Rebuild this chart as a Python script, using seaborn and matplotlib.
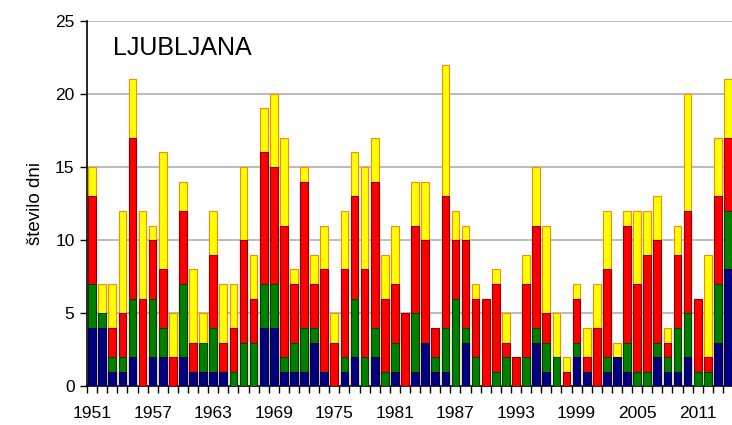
import numpy as np
import pandas as pd
import matplotlib
matplotlib.use('Agg')
import matplotlib.pyplot as plt
import seaborn as sns

years = list(range(1951, 2015))

# dni po kategorijah (od spodaj navzgor)
blue = [4, 4, 1, 1, 2, 0, 2, 2, 0, 2,
        1, 1, 1, 1, 0, 0, 0, 4, 4, 1,
        1, 1, 3, 1, 0, 1, 2, 0, 2, 0,
        1, 0, 1, 3, 1, 1, 0, 3, 0, 0,
        0, 0, 0, 0, 3, 1, 0, 0, 2, 1,
        0, 1, 2, 1, 0, 0, 2, 1, 1, 2,
        0, 0, 3, 8]
green = [3, 1, 1, 1, 4, 0, 4, 2, 0, 5,
         0, 2, 3, 0, 1, 3, 3, 3, 3, 1,
         2, 3, 1, 0, 0, 1, 4, 2, 2, 1,
         2, 0, 4, 0, 1, 3, 6, 1, 2, 0,
         1, 2, 0, 2, 1, 2, 2, 0, 1, 0,
         0, 1, 0, 2, 1, 1, 1, 1, 3, 3,
         1, 1, 4, 4]
red = [6, 0, 2, 3, 11, 6, 4, 4, 2, 5,
       2, 0, 5, 2, 3, 7, 3, 9, 8, 9,
       4, 10, 3, 7, 3, 6, 7, 6, 10, 5,
       4, 5, 6, 7, 2, 9, 4, 6, 4, 6,
       6, 1, 2, 5, 7, 2, 0, 1, 3, 1,
       4, 6, 0, 8, 6, 8, 7, 1, 5, 7,
       5, 1, 6, 5]
yellow = [2, 2, 3, 7, 4, 6, 1, 8, 3, 2,
          5, 2, 3, 4, 3, 5, 3, 3, 5, 6,
          1, 1, 2, 3, 2, 4, 3, 7, 3, 3,
          4, 0, 3, 4, 0, 9, 2, 1, 1, 0,
          1, 2, 0, 2, 4, 6, 3, 1, 1, 2,
          3, 4, 1, 1, 5, 3, 3, 1, 2, 8,
          0, 7, 4, 4]

tick_years = years[::6]

sns.set_theme(style='white')
plt.rcParams['font.family'] = ['Liberation Sans', 'DejaVu Sans']

fig = plt.figure(figsize=(7.32, 4.25), dpi=100)
ax = fig.add_axes([0.1189, 0.0906, 0.8825, 0.8607])

labels = [str(y) for y in years]
b = np.array(blue, float)
g = np.array(green, float)
r = np.array(red, float)
yl = np.array(yellow, float)

# kumulativne plasti, risane od zgoraj navzdol
layers = [
    (b + g + r + yl, yl, '#FFFF00', '#FF8C00'),
    (b + g + r, r, '#FF0000', '#8B0000'),
    (b + g, g, '#008000', '#004000'),
    (b, b, '#000080', '#000040'),
]
for cum, seg, fc, ec in layers:
    vals = np.where(seg > 0, cum, np.nan)
    df = pd.DataFrame({'leto': labels, 'dni': vals})
    sns.barplot(data=df, x='leto', y='dni', order=labels, color=fc,
                saturation=1, edgecolor=ec, linewidth=0.8, width=0.76,
                errorbar=None, ax=ax, zorder=3)

ax.set_xlim(-0.5, len(years) - 0.5)
ax.set_ylim(0, 25)
ax.set_yticks([0, 5, 10, 15, 20, 25])
ax.yaxis.grid(True, color='#a8a8a8', linewidth=1.1, zorder=0)
ax.set_axisbelow(True)

ax.set_xticks([years.index(y) for y in tick_years])
ax.set_xticklabels([str(y) for y in tick_years])
ax.set_xticks(np.arange(-0.5, len(years), 1), minor=True)
ax.tick_params(axis='x', which='major', length=0, pad=14, labelsize=12.5, colors='black')
ax.tick_params(axis='x', which='minor', length=5, width=1, color='black', bottom=True)
ax.tick_params(axis='y', which='major', length=5, width=1, color='black', left=True,
               labelsize=12.5, pad=4, labelcolor='black')

for s in ['top', 'right']:
    ax.spines[s].set_visible(False)
for s in ['left', 'bottom']:
    ax.spines[s].set_color('black')
    ax.spines[s].set_linewidth(1.2)

ax.set_xlabel('')
ax.set_ylabel('število dni', fontsize=13.5, color='black', labelpad=8)
ax.text(0.04, 0.905, 'LJUBLJANA', transform=ax.transAxes, fontsize=18,
        color='black', ha='left', va='baseline')

fig.savefig('out.png', dpi=100)
